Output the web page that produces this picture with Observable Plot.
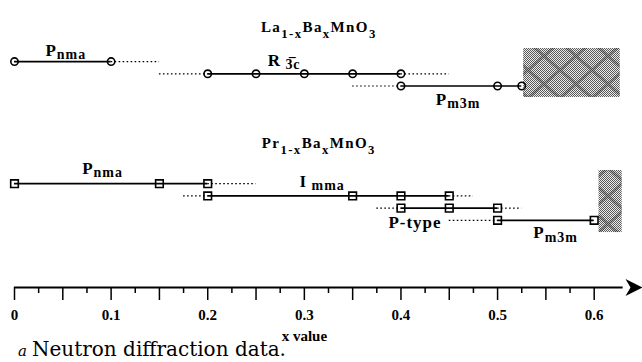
<!DOCTYPE html>
<html>
<head>
<meta charset="utf-8">
<script src="https://cdn.jsdelivr.net/npm/d3@7"></script>
<script src="https://cdn.jsdelivr.net/npm/@observablehq/plot@0.6"></script>
<style>
  html, body { margin: 0; padding: 0; background: #fff; }
  #wrap { position: relative; width: 642px; height: 362px; overflow: hidden; }
  #wrap svg, #wrap svg text { font-family: "Liberation Serif", "Times New Roman", serif !important; font-weight: bold; }
  #cap { position: absolute; left: 18px; top: 339px; font-family: "DejaVu Serif", serif; font-size: 20px; line-height: 20px; color: #000; white-space: nowrap; }
  #cap i { display: inline-block; width: 14px; font-size: 15px; }
</style>
</head>
<body>
<div id="wrap"></div>
<script>
// ---- data ----
const compoundTitles = ["La_{1-x}Ba_{x}MnO_{3}", "Pr_{1-x}Ba_{x}MnO_{3}"];
const compoundTitleLevel = [-2.8, 6.7];

const phaseLabels   = ["P_{nma}", "R_{ 3\u0305c}", "P_{m3m}", "P_{nma}", "I_{ mma}", "P-type", "P_{m3m}"];
const phaseCompound = ["La", "La", "La", "Pr", "Pr", "Pr", "Pr"];
const phaseRow      = [0, 1, 2, 10, 11, 12, 13];
const phaseXValues  = [
  [0, 0.1],
  [0.2, 0.25, 0.3, 0.35, 0.4],
  [0.4, 0.5, 0.525],
  [0, 0.15, 0.2],
  [0.2, 0.35, 0.4, 0.45],
  [0.4, 0.45, 0.5],
  [0.5, 0.6]
];
const dottedFrom    = [null, 0.15, 0.35, null, 0.175, 0.375, 0.45];
const dottedTo      = [0.15, 0.45, null, 0.25, 0.475, 0.525, null];
const labelX        = [0.032, 0.262, 0.436, 0.070, 0.295, 0.387, 0.537];
const labelLevel    = [-0.9, -0.05, 3.07, 8.76, 9.82, 13.22, 14.04];

const mixedX1 = [0.527, 0.605];
const mixedX2 = [0.627, 0.629];
const mixedY1 = [-1.07, 8.92];
const mixedY2 = [2.94, 14.0];

const majorTicks = [0, 0.05, 0.1, 0.15, 0.2, 0.25, 0.3, 0.35, 0.4, 0.45, 0.5, 0.55, 0.6];
const minorTicks = [0.025, 0.075, 0.125, 0.175, 0.225, 0.275, 0.325, 0.375, 0.425, 0.475, 0.525, 0.575];
const tickLabelValues = [0, 0.1, 0.2, 0.3, 0.4, 0.5, 0.6];
const tickLabels = ["0", "0.1", "0.2", "0.3", "0.4", "0.5", "0.6"];
const axisTitle = "x value";
const caption = "Neutron diffraction data.";
const xMax = 0.65;
const yTop = -5, yBottom = 18.5;

// ---- derived tables ----
const points = [];
const solid = [];
const dotted = [];
phaseXValues.forEach((xs, i) => {
  xs.forEach(x => points.push({x, row: phaseRow[i], compound: phaseCompound[i]}));
  solid.push({x1: xs[0], x2: xs[xs.length - 1], row: phaseRow[i]});
  if (dottedFrom[i] != null) dotted.push({x1: dottedFrom[i], x2: xs[0], row: phaseRow[i]});
  if (dottedTo[i] != null) dotted.push({x1: xs[xs.length - 1], x2: dottedTo[i], row: phaseRow[i]});
});
const labels = phaseLabels.map((t, i) => ({text: t, x: labelX[i], y: labelLevel[i]}));
const titles = compoundTitles.map((t, i) => ({text: t, y: compoundTitleLevel[i]}));
const mixed = mixedX1.map((x1, i) => ({x1, x2: mixedX2[i], y1: mixedY1[i], y2: mixedY2[i]}));
const tickLabelMap = new Map(tickLabelValues.map((v, i) => [v.toFixed(3), tickLabels[i]]));

const arrowHead = {
  draw(ctx) {
    ctx.moveTo(0, 0);
    ctx.lineTo(-17, -8.5);
    ctx.lineTo(-12, 0);
    ctx.lineTo(-17, 8.5);
    ctx.closePath();
  }
};

const svg = Plot.plot({
  width: 642,
  height: 350,
  marginTop: 0,
  marginBottom: 63,
  marginLeft: 14,
  marginRight: 0,
  style: {fontFamily: "Liberation Serif", fontSize: "15px", color: "#000", background: "transparent"},
  x: {domain: [0, xMax], axis: null},
  y: {domain: [yTop, yBottom], reverse: true, axis: null},
  marks: [
    Plot.rect(mixed, {x1: "x1", x2: "x2", y1: "y1", y2: "y2", fill: "url(#mixhatch)"}),
    Plot.ruleY(dotted, {x1: "x1", x2: "x2", y: "row", stroke: "#000", strokeWidth: 1.2, strokeDasharray: "1.6,2.4"}),
    Plot.ruleY(solid, {x1: "x1", x2: "x2", y: "row", stroke: "#000", strokeWidth: 1.7}),
    Plot.dot(points.filter(d => d.compound === "La"), {x: "x", y: "row", symbol: "circle", r: 3.7, stroke: "#000", strokeWidth: 1.6, fill: "none"}),
    Plot.dot(points.filter(d => d.compound === "Pr"), {x: "x", y: "row", symbol: "square", r: 4.3, stroke: "#000", strokeWidth: 1.6, fill: "none"}),
    Plot.text(titles, {x: () => 0.315, y: "y", text: "text", fontSize: 15, fontWeight: "bold", textAnchor: "middle"}),
    Plot.text(labels, {x: "x", y: "y", text: "text", fontSize: 17, fontWeight: "bold", textAnchor: "start"}),
    // axis
    Plot.ruleY([{y: yBottom, x1: 0, x2: xMax - 0.02}], {y: "y", x1: "x1", x2: "x2", stroke: "#000", strokeWidth: 2}),
    Plot.dot([{x: xMax, y: yBottom}], {x: "x", y: "y", symbol: arrowHead, r: 8, fill: "#000", stroke: "none"}),
    Plot.axisX({ticks: majorTicks, tickSize: 13, tickPadding: 9, strokeWidth: 1.5, fontSize: 15, fontWeight: "bold",
      tickFormat: d => tickLabelMap.get(d.toFixed(3)) ?? "", label: null}),
    Plot.axisX({ticks: minorTicks, tickSize: 6, strokeWidth: 1.5, tickFormat: () => "", label: null}),
    Plot.text([axisTitle], {x: () => 0.3, text: d => d, frameAnchor: "bottom", dy: 53, fontSize: 15, fontWeight: "bold"})
  ]
});

// pattern for the mixed-phase (two-phase) regions
const ns = "http://www.w3.org/2000/svg";
const defs = document.createElementNS(ns, "defs");
defs.innerHTML = `
  <pattern id="checker" width="2" height="2" patternUnits="userSpaceOnUse">
    <rect width="2" height="2" fill="#ececec"/>
    <rect width="1" height="1" fill="#5a5a5a"/>
    <rect x="1" y="1" width="1" height="1" fill="#5a5a5a"/>
  </pattern>
  <pattern id="mixhatch" width="32" height="28" patternUnits="userSpaceOnUse">
    <rect width="32" height="28" fill="url(#checker)"/>
    <path d="M0,0L32,28M32,0L0,28" stroke="#222" stroke-opacity="0.35" stroke-width="3"/>
  </pattern>`;
svg.insertBefore(defs, svg.firstChild);

// rich text: "_{...}" → lowered, smaller tspans
function richify(root) {
  root.querySelectorAll("text").forEach(t => {
    const s = t.textContent;
    if (!s.includes("_{")) return;
    const isTitle = s.includes("MnO");
    const scale = isTitle ? 0.85 : 0.82;
    const shift = isTitle ? 0.36 : 0.18;
    t.setAttribute("letter-spacing", isTitle ? "1.4" : "1");
    while (t.firstChild) t.removeChild(t.firstChild);
    const re = /_\{([^}]*)\}/g;
    let last = 0, m, lowered = false;
    const add = (str, sub) => {
      if (!str) return;
      const ts = document.createElementNS(ns, "tspan");
      ts.textContent = str;
      if (sub) {
        ts.setAttribute("font-size", scale + "em");
        ts.setAttribute("dy", (shift / scale).toFixed(3) + "em");
        lowered = true;
      } else if (lowered) {
        ts.setAttribute("dy", (-shift).toFixed(3) + "em");
        lowered = false;
      }
      t.appendChild(ts);
    };
    while ((m = re.exec(s))) {
      add(s.slice(last, m.index), false);
      add(m[1], true);
      last = re.lastIndex;
    }
    add(s.slice(last), false);
  });
  root.querySelectorAll("text").forEach(t => {
    if (t.textContent === "P-type") t.setAttribute("letter-spacing", "1");
  });
}
richify(svg);

const wrap = document.getElementById("wrap");
wrap.appendChild(svg);
const cap = document.createElement("div");
cap.id = "cap";
cap.innerHTML = `<i>a</i>${caption}`;
wrap.appendChild(cap);
</script>
</body>
</html>
